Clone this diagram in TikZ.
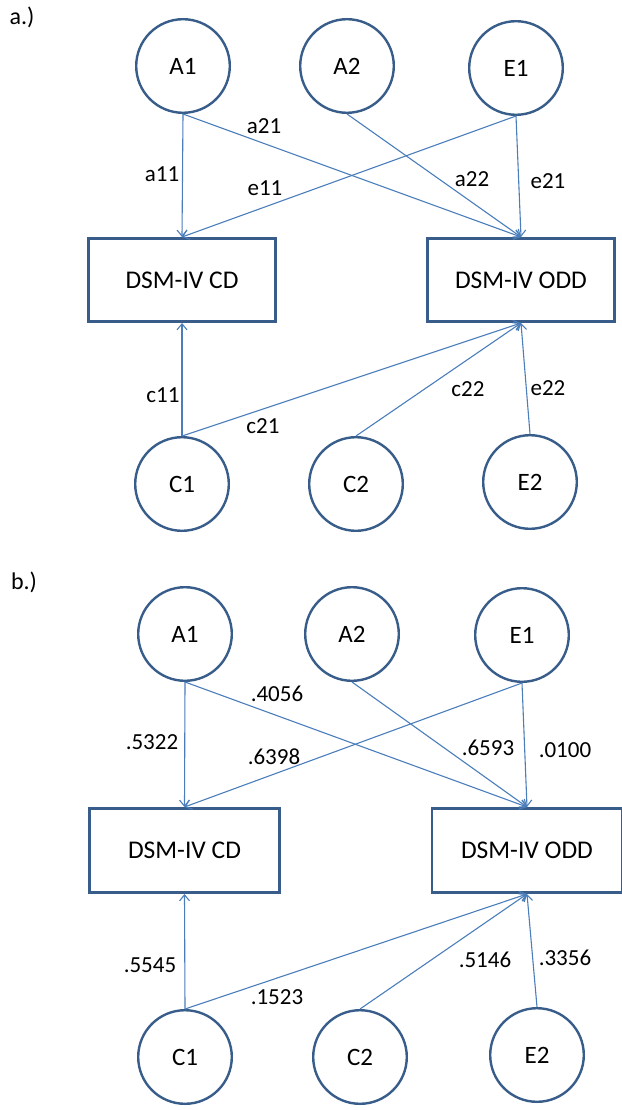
\documentclass[tikz,border=0pt]{standalone}
\usepackage{fontspec}
\setmainfont{Carlito}
\usepackage{tikz}
\usetikzlibrary{arrows.meta}
\definecolor{ringblue}{HTML}{385D8A}
\definecolor{arrowblue}{HTML}{4A7EBB}

\begin{document}
\begin{tikzpicture}[x=1pt, y=-1pt, >={Straight Barb[length=6pt,width=10pt]},
    latent/.style={draw=ringblue, line width=2.4pt, circle, minimum size=93.6pt, inner sep=0pt, font=\fontsize{25}{30}\selectfont},
    measure/.style={draw=ringblue, line width=2.6pt, minimum width=187.4pt, minimum height=83.4pt, inner sep=0pt, font=\fontsize{25.5}{30}\selectfont},
    loading/.style={->, draw=arrowblue, line width=1.1pt},
    coef/.style={font=\fontsize{23}{28}\selectfont},
    panel/.style={font=\fontsize{24}{28}\selectfont}]
    \useasboundingbox (0,0) rectangle (621,1110);

    % a.) path labels
    \node[panel] (pa) at (22,17) {a.)};
    \node[latent] (a1) at (183,66) {A1};
    \node[latent] (a2) at (347,66) {A2};
    \node[latent] (e1) at (516,68) {E1};
    \node[measure] (cd) at (182,280) {DSM-IV CD};
    \node[measure] (odd) at (521,280) {DSM-IV ODD};
    \node[latent] (c1) at (182,484) {C1};
    \node[latent] (c2) at (356,484) {C2};
    \node[latent] (e2) at (530,482) {E2};

    \draw[loading] (a1.south) -- (cd.north);
    \draw[loading] (a1.south) -- (odd.north);
    \draw[loading] (a2.south) -- (odd.north);
    \draw[loading] (e1.south) -- (cd.north);
    \draw[loading] (e1.south) -- (odd.north);
    \draw[loading] (c1.north) -- (cd.south);
    \draw[loading] (c1.north) -- (odd.south);
    \draw[loading] (c2.north) -- (odd.south);
    \draw[loading] (e2.north) -- (odd.south);

    \node[coef] (la11) at (162,174) {a11};
    \node[coef] (la21) at (264,126) {a21};
    \node[coef] (le11) at (265,188) {e11};
    \node[coef] (la22) at (472,179) {a22};
    \node[coef] (le21) at (548,181) {e21};
    \node[coef] (lc11) at (163,395) {c11};
    \node[coef] (lc21) at (263,426) {c21};
    \node[coef] (lc22) at (468,389) {c22};
    \node[coef] (le22) at (548,388) {e22};

    % b.) estimates
    \node[panel] (pb) at (24,582) {b.)};
    \node[latent] (a1b) at (185,634) {A1};
    \node[latent] (a2b) at (352,634) {A2};
    \node[latent] (e1b) at (522,635) {E1};
    \node[measure, minimum width=190.4pt, minimum height=84.4pt] (cdb) at (184.5,850.5) {DSM-IV CD};
    \node[measure, minimum width=190.4pt, minimum height=84.4pt] (oddb) at (527,850.5) {DSM-IV ODD};
    \node[latent] (c1b) at (185,1057) {C1};
    \node[latent] (c2b) at (360,1057) {C2};
    \node[latent] (e2b) at (537,1055) {E2};

    \draw[loading] (a1b.south) -- (cdb.north);
    \draw[loading] (a1b.south) -- (oddb.north);
    \draw[loading] (a2b.south) -- (oddb.north);
    \draw[loading] (e1b.south) -- (cdb.north);
    \draw[loading] (e1b.south) -- (oddb.north);
    \draw[loading] (c1b.north) -- (cdb.south);
    \draw[loading] (c1b.north) -- (oddb.south);
    \draw[loading] (c2b.north) -- (oddb.south);
    \draw[loading] (e2b.north) -- (oddb.south);

    \node[coef] (lb11) at (152,742) {.5322};
    \node[coef] (lb21) at (277,694) {.4056};
    \node[coef] (lbe11) at (274,757) {.6398};
    \node[coef] (lb22) at (488,748) {.6593};
    \node[coef] (lbe21) at (565,750) {.0100};
    \node[coef] (lbc11) at (150,965) {.5545};
    \node[coef] (lbc21) at (277,997) {.1523};
    \node[coef] (lbc22) at (485,960) {.5146};
    \node[coef] (lbe22) at (565,958) {.3356};
\end{tikzpicture}
\end{document}
